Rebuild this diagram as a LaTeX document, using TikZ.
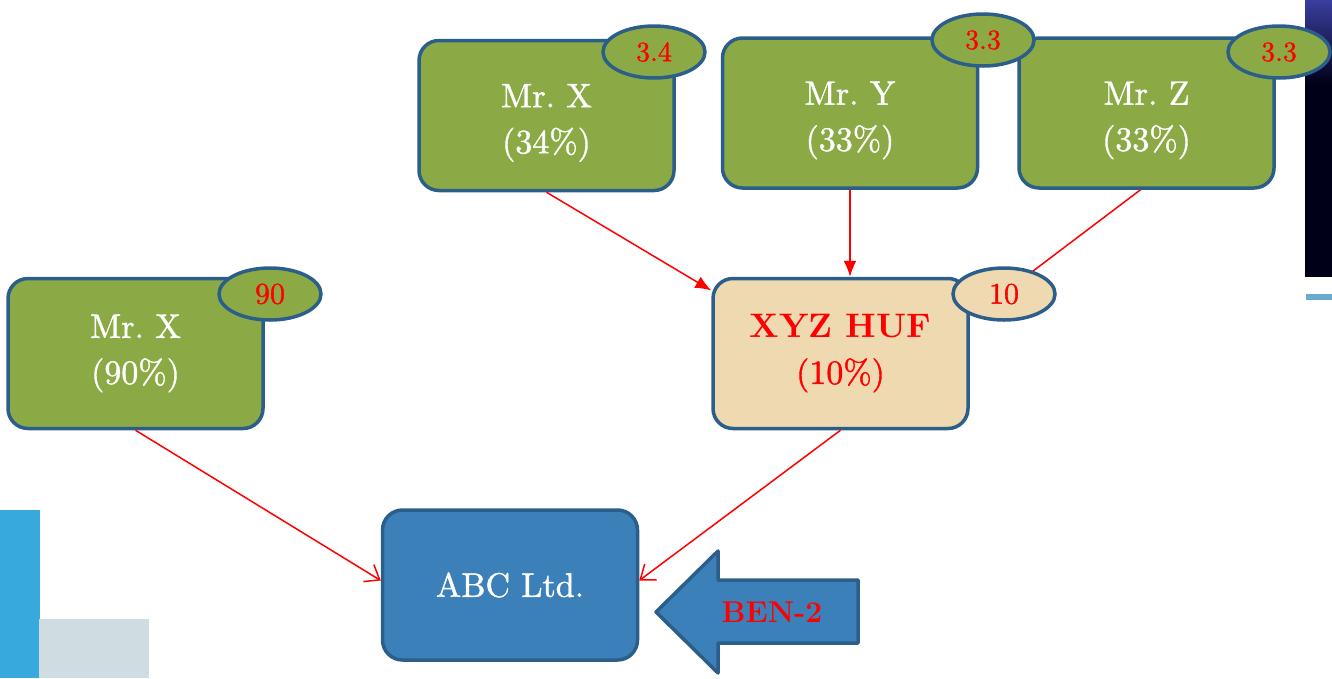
\documentclass[tikz,border=0pt]{standalone}
\usepackage{fontspec}
\newfontfamily\heavy{lmroman10-regular.otf}[FakeBold=1.2]
\usetikzlibrary{shapes.geometric,arrows.meta}
\definecolor{boxgreen}{RGB}{139,170,69}
\definecolor{boxline}{RGB}{44,94,138}
\definecolor{wheatfill}{RGB}{239,217,176}
\definecolor{abcblue}{RGB}{60,128,186}
\definecolor{cornerblue}{RGB}{55,169,220}
\definecolor{cornergrey}{RGB}{207,220,226}
\definecolor{thinblue}{RGB}{106,170,203}
\definecolor{darkbar}{RGB}{0,0,24}
\definecolor{barblue}{RGB}{58,62,158}
\newcommand{\lowstrut}{\rule{0pt}{38pt}}
\tikzset{
  person/.style={draw=boxline, line width=3.5pt, fill=boxgreen, rounded corners=20pt,
    minimum width=255pt, minimum height=150pt, inner sep=0pt, align=center, text=white,
    font=\heavy\fontsize{34}{46}\selectfont},
  huf/.style={person, fill=wheatfill, text=red},
  company/.style={person, fill=abcblue},
  tag/.style={ellipse, draw=boxline, line width=3.5pt, fill=boxgreen, minimum width=102pt,
    minimum height=52pt, inner sep=0pt, text=red, font=\heavy\fontsize{28}{30}\selectfont},
  link/.style={draw=red, line width=1.5pt},
  solidtip/.style={link, -{Latex[length=16pt,width=13pt]}},
  opentip/.style={link, -{Straight Barb[length=13pt,width=20pt,line width=1.5pt]}}
}
\begin{document}
\begin{tikzpicture}[x=1pt,y=-1pt]
\useasboundingbox (0,0) rectangle (1332,678);
% decorations
\fill[darkbar] (1305,0) rectangle (1332,277);
\shade[top color=barblue, bottom color=darkbar] (1305,0) rectangle (1332,85);
\fill[thinblue] (1306,294) rectangle (1332,300);
\fill[cornerblue] (0,510) rectangle (40,678);
\fill[cornergrey] (39,619) rectangle (149,678);
% boxes
\node[person] (mx) at (546.5,115.5) {\lowstrut Mr.\ X\\(34\%)};
\node[person] (my) at (850,113) {\lowstrut Mr.\ Y\\(33\%)};
\node[person] (mz) at (1146.5,113) {\lowstrut Mr.\ Z\\(33\%)};
\node[person] (mxl) at (135.5,353.5) {Mr.\ X\\(90\%)};
\node[huf] (xyz) at (840.5,353.5) {{\fontspec{lmroman10-bold.otf}XYZ HUF}\\(10\%)};
\node[company] (abc) at (510,585) {ABC Ltd.};
% connectors
\draw[solidtip] (mx.south) -- (xyz.154);
\draw[solidtip] (my.south) -- (my.south |- xyz.north);
\coordinate (hufend) at (1004,293);
\draw[link] ([xshift=-6pt]mz.south) -- (hufend);
\draw[opentip] (mxl.south) -- (abc.178);
\draw[opentip] (xyz.south) -- (abc.2);
% tags
\node[tag] (t1) at (654,52) {3.4};
\node[tag] (t2) at (983,40) {3.3};
\node[tag] (t3) at (1279,52) {3.3};
\node[tag, font=\heavy\fontsize{30}{32}\selectfont] (t4) at (270,294) {90};
\node[tag, fill=wheatfill, font=\heavy\fontsize{30}{32}\selectfont] (t5) at (1004,294) {10};
% BEN-2 block arrow
\filldraw[fill=abcblue, draw=boxline, line width=3.5pt, line join=round]
  (656,612) -- (718,551) -- (718,580) -- (858,580) -- (858,643) -- (718,643) -- (718,673) -- cycle;
\node[text=red, font=\bfseries\fontsize{30}{34}\selectfont] (ben) at (772,612) {BEN-2};
\end{tikzpicture}
\end{document}
